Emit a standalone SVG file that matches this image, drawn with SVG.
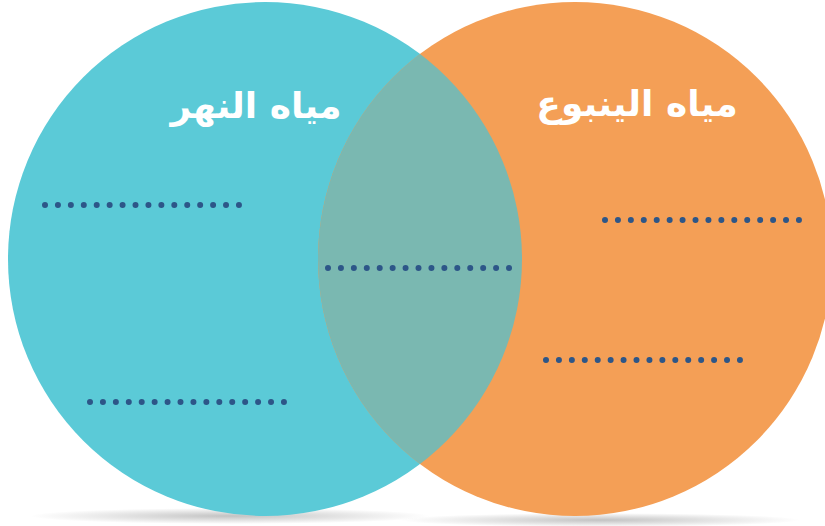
<svg xmlns="http://www.w3.org/2000/svg" width="825" height="526" viewBox="0 0 825 526">
<defs>
<style>
.dots{stroke:#2D5688;stroke-width:6;stroke-linecap:round;stroke-dasharray:0 12.93;fill:none}
.lbl{font-family:"DejaVu Sans",sans-serif;font-weight:bold;font-size:36px;fill:#ffffff;text-anchor:middle}
</style>
<clipPath id="clipL"><circle cx="265" cy="259" r="257"/></clipPath>
<radialGradient id="shadow" cx="0.5" cy="0.5" r="0.5">
<stop offset="0" stop-color="#9a9a9a" stop-opacity="0.6"/>
<stop offset="1" stop-color="#9a9a9a" stop-opacity="0"/>
</radialGradient>
</defs>
<rect width="825" height="526" fill="#ffffff"/>
<ellipse cx="230" cy="516" rx="200" ry="8" fill="url(#shadow)"/>
<ellipse cx="600" cy="520" rx="200" ry="7" fill="url(#shadow)"/>
<g id="river">
<circle cx="265" cy="259" r="257" fill="#5BCAD7"/>
<text class="lbl" x="256" y="118" direction="rtl">مياه النهر</text>
</g>
<g id="spring">
<circle cx="575" cy="259" r="257" fill="#F49F56"/>
<text class="lbl" x="637" y="116" direction="rtl">مياه الينبوع</text>
</g>
<g id="overlap">
<circle cx="575" cy="259" r="257" fill="#7AB8B1" clip-path="url(#clipL)"/>
</g>
<g id="lines">
<line class="dots" x1="45" y1="205" x2="240" y2="205"/>
<line class="dots" x1="605" y1="220" x2="800" y2="220"/>
<line class="dots" x1="328" y1="268" x2="510" y2="268"/>
<line class="dots" x1="546" y1="360" x2="741" y2="360"/>
<line class="dots" x1="90" y1="402" x2="285" y2="402"/>
</g>
</svg>
